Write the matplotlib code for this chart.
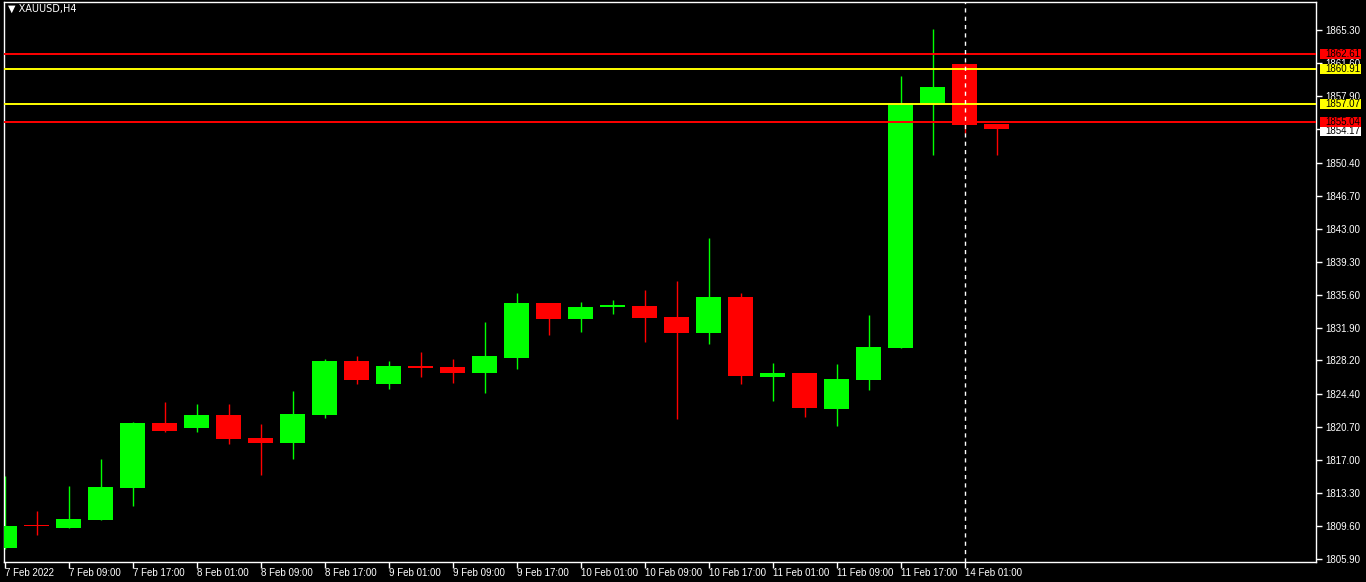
import numpy as np
import matplotlib
matplotlib.use('Agg')
import matplotlib.pyplot as plt
import matplotlib.transforms as mtransforms
from matplotlib.patches import Rectangle

# XAUUSD H4 candles, 7 Feb 01:00 -> 14 Feb 05:00
opens = [1807.17, 1809.65, 1809.42, 1810.32, 1813.91, 1821.18, 1820.65, 1822.08,
         1819.50, 1818.97, 1822.08, 1828.15, 1825.60, 1827.59, 1827.47, 1826.80,
         1828.52, 1834.66, 1832.87, 1834.20, 1834.33, 1833.09, 1831.29, 1835.34,
         1826.38, 1826.80, 1822.79, 1826.05, 1829.64, 1857.10, 1861.52, 1854.78]
highs = [1815.23, 1811.29, 1814.10, 1817.14, 1821.30, 1823.54, 1823.32, 1823.32,
         1821.07, 1824.78, 1828.40, 1828.71, 1828.15, 1829.16, 1828.37, 1832.53,
         1835.79, 1834.70, 1834.78, 1835.00, 1836.12, 1837.14, 1841.97, 1835.79,
         1827.92, 1826.82, 1827.81, 1833.32, 1860.17, 1865.45, 1861.60, 1854.80]
lows = [1807.02, 1808.63, 1809.38, 1810.28, 1811.89, 1820.20, 1820.20, 1818.86,
        1815.37, 1817.17, 1821.78, 1825.60, 1825.04, 1826.38, 1825.71, 1824.59,
        1827.28, 1831.10, 1831.44, 1833.46, 1830.32, 1821.66, 1830.09, 1825.60,
        1823.69, 1821.89, 1820.88, 1824.92, 1829.60, 1851.33, 1853.77, 1851.33]
closes = [1809.61, 1809.55, 1810.39, 1813.99, 1821.18, 1820.32, 1822.08, 1819.42,
          1818.97, 1822.19, 1828.15, 1826.05, 1827.59, 1827.39, 1826.80, 1828.71,
          1834.66, 1832.87, 1834.21, 1834.29, 1833.01, 1831.29, 1835.34, 1826.50,
          1826.80, 1822.90, 1826.12, 1829.72, 1857.06, 1858.93, 1854.70, 1854.17]

time_labels = ['7 Feb 2022', '7 Feb 09:00', '7 Feb 17:00', '8 Feb 01:00', '8 Feb 09:00',
               '8 Feb 17:00', '9 Feb 01:00', '9 Feb 09:00', '9 Feb 17:00', '10 Feb 01:00',
               '10 Feb 09:00', '10 Feb 17:00', '11 Feb 01:00', '11 Feb 09:00',
               '11 Feb 17:00', '14 Feb 01:00']

price_ticks = [1805.90, 1809.60, 1813.30, 1817.00, 1820.70, 1824.40, 1828.20, 1831.90,
               1835.60, 1839.30, 1843.00, 1846.70, 1850.40, 1854.20, 1857.90, 1861.60,
               1865.30]

# horizontal levels and their colours
level_prices = [1862.61, 1860.91, 1857.07, 1855.04]
level_colors = ['#ff0000', '#ffff00', '#ffff00', '#ff0000']
bid = 1854.17
separator_idx = 30

plt.rcParams['font.family'] = ['Liberation Sans', 'DejaVu Sans']

W, H = 1366, 582
fig = plt.figure(figsize=(W / 100, H / 100), dpi=100, facecolor='black')
ax = fig.add_axes([4 / W, 20 / H, (1316 - 4) / W, (562 - 2) / H], facecolor='black')

o = np.array(opens)
c = np.array(closes)
x = np.arange(len(o))
up = c >= o
cols = np.where(up, '#00ff00', '#ff0000')
body_lo = np.minimum(o, c)
body_h = np.maximum(np.abs(c - o), 0.2)

ax.vlines(x, lows, highs, colors=cols, lw=1, zorder=2)
ax.bar(x, body_h, bottom=body_lo, width=0.78, color=cols, linewidth=0, zorder=3)

for p, col in zip(level_prices, level_colors):
    ax.axhline(p, color=col, lw=1.4, zorder=4)

ax.axvline(separator_idx, color='white', lw=1, ls=(0, (3, 3)), zorder=5)

ax.set_xlim(-0.03, 40.97)
ax.set_ylim(1805.56, 1868.48)

ax.set_xticks(np.arange(0, 2 * len(time_labels), 2))
ax.set_xticklabels(time_labels)
ax.yaxis.tick_right()
ax.set_yticks(price_ticks)
# 1854.20 sits under the bid tag, so its label is not drawn
ax.set_yticklabels(['' if abs(v - 1854.20) < 0.01 else '%.2f' % v for v in price_ticks])
ax.tick_params(axis='both', colors='white', labelcolor='white', labelsize=7,
               length=4, width=1)
ax.tick_params(axis='y', pad=3)
ax.tick_params(axis='x', pad=0.5)
for lbl in ax.get_xticklabels():
    lbl.set_horizontalalignment('left')

for s in ['top', 'right', 'bottom', 'left']:
    ax.spines[s].set_color('white')
    ax.spines[s].set_linewidth(1)

# price tags on the right scale
trans = mtransforms.blended_transform_factory(ax.transAxes, ax.transData)
px_x = 1.0 / 1312
px_y = (1868.48 - 1805.56) / 560


def tag(yc, label, col, z):
    ax.add_patch(Rectangle((1.0 + 4 * px_x, yc - 5 * px_y), 41 * px_x, 10 * px_y,
                           transform=trans, fc=col, ec='none', clip_on=False, zorder=z))
    ax.text(1.0 + 9 * px_x, yc, label, transform=trans, fontsize=7, color='black',
            va='center', ha='left', zorder=z + 0.5, clip_on=False)


# bid tag sits just below the 1855.04 tag, drawn underneath it
tag(bid - 1.8 * px_y, '%.2f' % bid, 'white', 8)
for p, col in zip(level_prices, level_colors):
    tag(p, '%.2f' % p, col, 9)

fig.text(8 / W, 1 - 9 / H, '\u25bc XAUUSD,H4', color='white', fontsize=7,
         va='center', ha='left', family=['DejaVu Sans'])

fig.savefig('out.png', dpi=100, facecolor='black')
